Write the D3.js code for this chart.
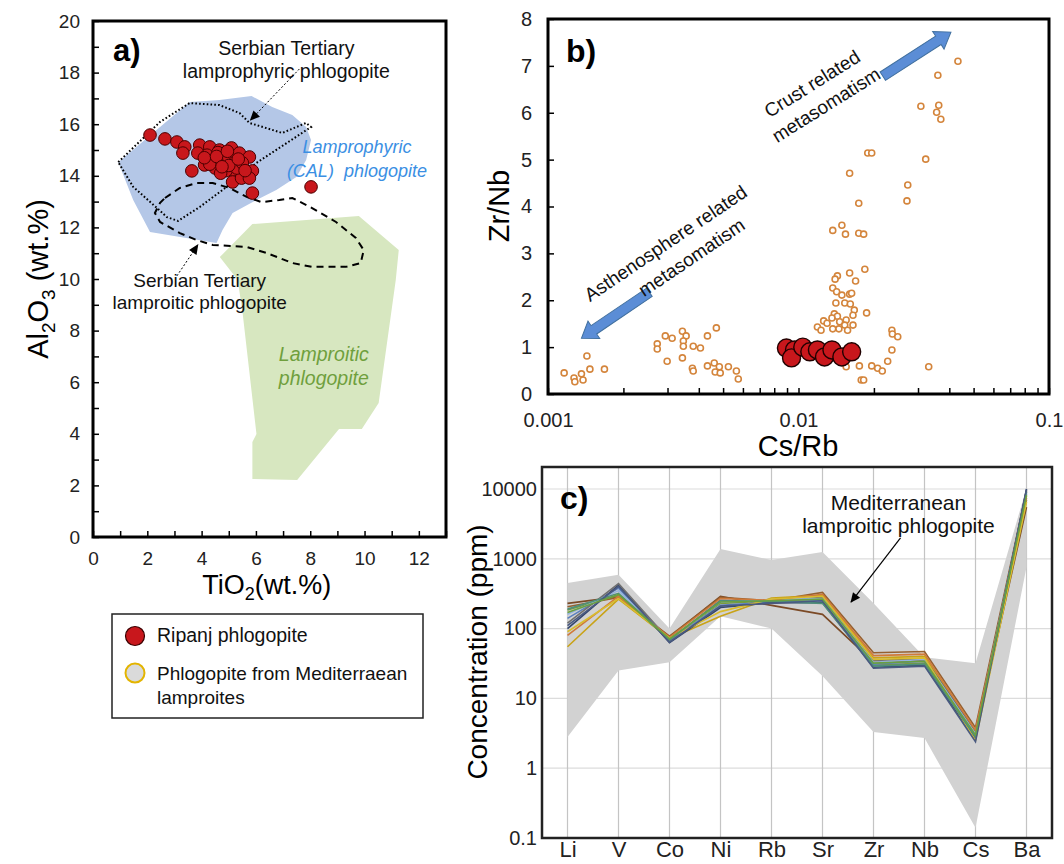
<!DOCTYPE html>
<html lang="en">
<head>
<meta charset="UTF-8">
<title>Ripanj phlogopite diagrams</title>
<script src="https://cdn.jsdelivr.net/npm/d3@7"></script>
<style>
  body { margin: 0; background: #fff; }
  svg { font-family: "Liberation Sans", Arial, sans-serif; }
  .tick text { fill: #222; }
  .tick line { stroke: #000; stroke-width: 1.5; }
</style>
</head>
<body>
<svg id="fig" width="1064" height="864"></svg>
<script>
// ---------- panel a: TiO2 vs Al2O3 ----------
// Ripanj phlogopite [TiO2, Al2O3]
const ripanjA = [
  [2.1,15.58],[2.65,15.43],[3.09,15.31],[3.38,15.12],[3.31,14.88],[3.93,15.19],[3.86,14.88],
  [4.3,15.12],[4.66,15.0],[5.1,15.08],[5.39,14.88],[5.76,14.73],[3.64,14.19],[4.11,14.42],
  [5.14,14.22],[5.87,14.19],[5.14,13.76],[5.47,13.91],[5.76,13.91],[5.87,13.33],[8.03,13.57],
  [4.4,14.6],[4.8,14.5],[5.0,14.7],[4.5,14.3],[5.2,14.5],[4.9,14.2],[4.2,14.8],[5.3,14.3],
  [4.6,14.9],[5.0,14.4],[4.7,14.1],[5.5,14.5],[4.3,14.45],[5.6,14.2],[4.1,14.7],[4.55,14.75],
  [4.95,14.95],[5.35,14.65],[4.75,14.35]
];
// field outlines [TiO2, Al2O3]
const lamprophyricField = [
  [0.93,14.53],[3.56,16.86],[4.66,16.94],[5.84,17.09],[6.6,16.67],[7.34,16.36],[7.85,15.89],
  [8.03,15.39],[7.85,14.61],[7.49,13.95],[6.75,13.45],[6.02,13.06],[5.14,12.56],[4.77,11.9],
  [4.55,11.4],[2.1,11.82],[1.48,13.06]
];
const lamproiticField = [
  [4.67,10.85],[5.87,12.13],[9.79,12.44],[11.26,11.12],[11.15,9.96],[10.52,5.19],[9.9,4.19],
  [9.06,4.19],[7.52,2.21],[5.87,2.25],[5.87,3.68],[6.02,3.99],[5.51,8.68],[5.33,9.96]
];
const serbianLamprophyric = [
  [0.93,14.53],[2.47,16.09],[3.56,16.82],[4.66,16.74],[5.4,16.43],[5.76,16.05],[6.97,15.66],
  [7.85,16.05],[8.03,15.89],[6.02,14.5],[4.92,13.57],[3.93,12.79],[3.13,12.25],[2.72,12.4],
  [2.36,12.75],[1.48,13.57]
];
const serbianLamproitic = [
  [2.65,13.14],[3.2,13.53],[3.82,13.72],[4.41,13.72],[5.03,13.53],[5.66,13.18],[6.2,12.98],
  [6.86,13.06],[7.34,13.14],[8.07,12.75],[8.95,12.21],[9.68,11.59],[9.97,11.12],[9.86,10.62],
  [9.31,10.47],[8.07,10.47],[7.34,10.62],[6.39,11.01],[5.66,11.24],[4.41,11.32],[3.82,11.51],
  [3.2,11.78],[2.47,12.21],[2.28,12.56],[2.47,12.95]
];

// ---------- panel b: Cs/Rb vs Zr/Nb ----------
const mediterraneanB = [
  [0.00116,0.45],[0.00127,0.34],[0.00128,0.26],[0.00136,0.43],[0.00138,0.30],[0.00143,0.81],
  [0.00147,0.53],[0.00168,0.53],
  [0.00273,1.07],[0.00273,0.96],[0.00294,1.24],[0.00313,1.19],[0.00299,0.70],[0.00344,1.34],
  [0.00356,1.24],[0.00347,1.13],[0.00347,1.02],[0.0038,1.02],[0.00406,0.98],[0.00344,0.77],
  [0.00377,0.55],[0.0038,0.49],[0.00433,1.24],[0.0047,1.41],[0.00433,0.60],[0.00461,0.66],
  [0.00483,0.58],[0.00465,0.47],[0.00487,0.45],[0.00525,0.58],[0.00565,0.49],[0.00575,0.32],
  [0.0433,7.10],[0.0360,6.80],[0.0308,6.14],[0.0363,6.16],[0.0356,6.01],[0.037,5.86],
  [0.0322,5.01],[0.0189,5.14],[0.0196,5.14],[0.016,4.71],[0.0273,4.46],[0.0271,4.12],
  [0.0174,4.07],[0.0149,3.60],[0.0137,3.49],[0.0154,3.41],[0.0174,3.43],[0.0182,3.41],
  [0.0184,2.66],[0.016,2.58],[0.0169,2.41],[0.0143,2.52],[0.014,2.45],[0.0137,2.26],
  [0.0142,2.18],[0.0149,2.11],[0.016,2.13],[0.0163,2.15],[0.0141,1.94],[0.0153,1.94],
  [0.0161,1.92],[0.0167,1.79],[0.0165,1.68],[0.0187,1.73],[0.0139,1.71],[0.0143,1.66],
  [0.0136,1.62],[0.0126,1.56],[0.013,1.51],[0.0146,1.54],[0.0155,1.58],[0.0153,1.47],
  [0.0119,1.43],[0.0123,1.36],[0.0137,1.39],[0.0145,1.39],[0.0157,1.36],[0.0165,1.47],
  [0.0236,1.36],[0.0237,1.28],[0.0249,1.22],[0.0236,0.94],[0.0227,0.70],[0.0155,0.58],
  [0.0175,0.60],[0.0196,0.60],[0.0207,0.55],[0.0216,0.49],[0.0178,0.30],[0.0182,0.30],
  [0.0331,0.58]
];
const ripanjB = [
  [0.00895,0.98],[0.00964,0.94],[0.00938,0.77],[0.0104,1.00],[0.0111,0.90],[0.0119,0.94],
  [0.0127,0.79],[0.0136,0.94],[0.0149,0.79],[0.0163,0.90]
];
const bTicksX = [0.001, 0.01, 0.1];

// ---------- panel c: trace elements ----------
const elements = ["Li","V","Co","Ni","Rb","Sr","Zr","Nb","Cs","Ba"];
const medUpper = [450, 590, 100, 1380, 960, 1250, 230, 39, 32, 10300];
const medLower = [2.8, 25, 33, 150, 100, 21, 3.3, 2.7, 0.14, 760];
const ripanjC = [
  [230, 285, 76, 290, 215, 160, 33, 35, 3.0, 5500],
  [205, 280, 78, 280, 250, 330, 45, 47, 3.8, 9500],
  [55, 265, 72, 150, 275, 300, 38, 40, 3.3, 8000],
  [185, 300, 70, 230, 250, 260, 30, 32, 2.7, 7000],
  [140, 380, 66, 215, 240, 250, 31, 34, 2.9, 8500],
  [100, 420, 63, 200, 235, 235, 28, 30, 2.6, 10000],
  [120, 440, 68, 255, 245, 280, 35, 37, 3.4, 9000],
  [160, 350, 70, 240, 260, 270, 33, 36, 3.1, 8800],
  [80, 290, 75, 270, 255, 310, 41, 43, 3.5, 7500],
  [90, 270, 73, 175, 265, 290, 36, 38, 2.5, 6500],
  [190, 320, 69, 250, 245, 230, 29, 31, 2.8, 9200],
  [110, 400, 64, 210, 230, 250, 27, 29, 2.4, 9800],
  [170, 310, 71, 240, 250, 265, 32, 34, 3.0, 8200]
];
const ripanjColors = ["#7b4a26","#96602f","#c9a318","#7c9a3c","#5b80bf","#34466e","#6f6f6f",
                      "#93b3de","#d07a3a","#d8bc2e","#4f8f7a","#4a5a80","#6aa040"];
const cTicksY = [0.1, 1, 10, 100, 1000, 10000];

const svg = d3.select('#fig');
svg.append('rect').attr('width',1064).attr('height',864).attr('fill','#fff');

const defs = svg.append('defs');
defs.append('marker').attr('id','head')
  .attr('viewBox','0 0 10 10').attr('refX',9).attr('refY',5)
  .attr('markerWidth',11).attr('markerHeight',10).attr('markerUnits','userSpaceOnUse')
  .attr('orient','auto')
  .append('path').attr('d','M0,0.5 L10,5 L0,9.5 Z').attr('fill','#000');

function styleAxis(g, size){
  g.select('.domain').remove();
  g.selectAll('text').style('font-size', size + 'px');
}

// ================= panel a =================
const xA = d3.scaleLinear().domain([0,13]).range([93,446]);
const yA = d3.scaleLinear().domain([0,20]).range([537,21]);
const gA = svg.append('g');
const lineA = d3.line().x(d => xA(d[0])).y(d => yA(d[1])).curve(d3.curveLinearClosed);

gA.append('path').attr('d', lineA(lamprophyricField)).attr('fill','#b4c7e7');
gA.append('path').attr('d', lineA(lamproiticField)).attr('fill','#d7e7c0');
gA.append('path').attr('d', lineA(serbianLamprophyric))
  .attr('fill','none').attr('stroke','#000').attr('stroke-width',2).attr('stroke-dasharray','1.6,2.2');
gA.append('path').attr('d', lineA(serbianLamproitic))
  .attr('fill','none').attr('stroke','#000').attr('stroke-width',2).attr('stroke-dasharray','7,5');

gA.selectAll('circle.rip').data(ripanjA).enter().append('circle')
  .attr('class','rip')
  .attr('cx', d => xA(d[0])).attr('cy', d => yA(d[1])).attr('r', 6.3)
  .attr('fill','#c8171c').attr('stroke','#4a0000').attr('stroke-width',1);

gA.append('g').attr('transform','translate(0,537)')
  .call(d3.axisBottom(xA).tickValues(d3.range(0,14)).tickSize(-6).tickPadding(15)
    .tickFormat(d => (d % 2 === 0 && d <= 12) ? d : ''))
  .call(g => styleAxis(g, 19));
gA.append('g').attr('transform','translate(93,0)')
  .call(d3.axisLeft(yA).tickValues(d3.range(0,21)).tickSize(-6).tickPadding(13)
    .tickFormat(d => d % 2 === 0 ? d : ''))
  .call(g => styleAxis(g, 19));
gA.append('rect').attr('x',93).attr('y',21).attr('width',353).attr('height',516)
  .attr('fill','none').attr('stroke','#000').attr('stroke-width',3);

// annotations a
gA.append('text').attr('x',113).attr('y',61).text('a)')
  .style('font-size','31px').style('font-weight','bold');
function twoLines(g, x, y1, y2, l1, l2, size, color, italic){
  const t = g.append('text').attr('text-anchor','middle').style('font-size', size+'px')
    .attr('fill', color).style('font-style', italic ? 'italic' : 'normal')
    .attr('xml:space','preserve');
  t.append('tspan').attr('x',x).attr('y',y1).text(l1);
  t.append('tspan').attr('x',x).attr('y',y2).text(l2);
}
twoLines(gA, xA(7.12), yA(18.68), yA(17.78), 'Serbian Tertiary', 'lamprophyric phlogopite', 19.5, '#111', false);
twoLines(gA, xA(9.72), yA(14.88), yA(13.95), 'Lamprophyric', '(CAL)  phlogopite', 18, '#3b8fe3', true);
twoLines(gA, xA(3.93), yA(9.68), yA(8.85), 'Serbian Tertiary', 'lamproitic phlogopite', 19, '#111', false);
twoLines(gA, xA(8.5), yA(6.82), yA(5.89), 'Lamproitic', 'phlogopite', 19.5, '#6f9f3d', true);

gA.append('line').attr('x1',xA(7.6)).attr('y1',yA(18.14)).attr('x2',xA(5.8)).attr('y2',yA(16.16))
  .attr('stroke','#000').attr('stroke-width',1).attr('stroke-dasharray','2,2').attr('marker-end','url(#head)');
gA.append('line').attr('x1',xA(3.09)).attr('y1',yA(10.12)).attr('x2',xA(3.86)).attr('y2',yA(11.32))
  .attr('stroke','#000').attr('stroke-width',1).attr('stroke-dasharray','2,2').attr('marker-end','url(#head)');

// axis titles a
const tA = svg.append('text').attr('x',xA(6.4)).attr('y',594).attr('text-anchor','middle')
  .style('font-size','27px');
tA.append('tspan').text('TiO');
tA.append('tspan').text('2').style('font-size','18px').attr('dy',6);
tA.append('tspan').text('(wt.%)').attr('dy',-6);
const yTa = svg.append('text').attr('transform','translate(48,279) rotate(-90)')
  .attr('text-anchor','middle').style('font-size','29px');
yTa.append('tspan').text('Al');
yTa.append('tspan').text('2').style('font-size','19px').attr('dy',7);
yTa.append('tspan').text('O').attr('dy',-7);
yTa.append('tspan').text('3').style('font-size','19px').attr('dy',7);
yTa.append('tspan').text(' (wt.%)').attr('dy',-7);

// legend
const lg = svg.append('g');
lg.append('rect').attr('x',112).attr('y',614).attr('width',311).attr('height',104)
  .attr('fill','#fff').attr('stroke','#222').attr('stroke-width',1.5);
lg.append('circle').attr('cx',135).attr('cy',636).attr('r',9.5)
  .attr('fill','#c8171c').attr('stroke','#3a0000').attr('stroke-width',1.2);
lg.append('circle').attr('cx',135).attr('cy',673).attr('r',9.5)
  .attr('fill','#dadada').attr('stroke','#e3b400').attr('stroke-width',2);
lg.append('text').attr('x',157).attr('y',642).text('Ripanj phlogopite').style('font-size','19.5px').attr('fill','#111');
const lt = lg.append('text').style('font-size','19px').attr('fill','#111');
lt.append('tspan').attr('x',157).attr('y',680).text('Phlogopite from Mediterraean');
lt.append('tspan').attr('x',157).attr('y',704).text('lamproites');

// ================= panel b =================
const xB = d3.scaleLog().domain([0.001,0.1]).range([548,1049]);
const yB = d3.scaleLinear().domain([0,8]).range([394,19]);
const gB = svg.append('g');
const logTicks = [];
[0.001,0.01].forEach(b => d3.range(1,10).forEach(m => logTicks.push(b*m)));
logTicks.push(0.1);

gB.append('g').attr('transform','translate(0,394)')
  .call(d3.axisBottom(xB).tickValues(logTicks).tickSize(-6).tickPadding(19)
    .tickFormat(d => bTicksX.some(t => Math.abs(t - d) < 1e-9) ? String(d) : ''))
  .call(g => styleAxis(g, 20));
gB.append('g').attr('transform','translate(548,0)')
  .call(d3.axisLeft(yB).tickValues(d3.range(0,9)).tickSize(-6).tickPadding(16))
  .call(g => styleAxis(g, 20));

gB.selectAll('circle.med').data(mediterraneanB).enter().append('circle')
  .attr('class','med')
  .attr('cx', d => xB(d[0])).attr('cy', d => yB(d[1])).attr('r', 3)
  .attr('fill','#fff').attr('stroke','#d4853c').attr('stroke-width',1.6);
gB.selectAll('circle.rip').data(ripanjB).enter().append('circle')
  .attr('class','rip')
  .attr('cx', d => xB(d[0])).attr('cy', d => yB(d[1])).attr('r', 9)
  .attr('fill','#c8171c').attr('stroke','#200000').attr('stroke-width',1.4);

gB.append('rect').attr('x',548).attr('y',19).attr('width',501).attr('height',375)
  .attr('fill','none').attr('stroke','#000').attr('stroke-width',3);

function blockArrow(g, x1, y1, x2, y2){
  const len = Math.hypot(x2-x1, y2-y1);
  const ang = Math.atan2(y2-y1, x2-x1) * 180 / Math.PI;
  const sw = 5, hw = 10.5, hl = 15;
  g.append('path')
    .attr('d', `M0,${-sw} L${len-hl},${-sw} L${len-hl},${-hw} L${len},0 L${len-hl},${hw} L${len-hl},${sw} L0,${sw} Z`)
    .attr('transform', `translate(${x1},${y1}) rotate(${ang})`)
    .attr('fill','#5b8dd6').attr('stroke','#41709f').attr('stroke-width',1);
}
blockArrow(gB, xB(0.0217), yB(6.78), xB(0.0406), yB(7.72));
blockArrow(gB, xB(0.00254), yB(2.17), xB(0.00136), yB(1.19));

function rotatedLines(g, p1, p2, l1, l2, angle){
  [[p1,l1],[p2,l2]].forEach(([p,l]) => {
    g.append('text').attr('text-anchor','middle').style('font-size','19px').attr('fill','#111')
      .attr('transform', `translate(${xB(p[0])},${yB(p[1])}) rotate(${angle})`).text(l);
  });
}
rotatedLines(gB, [0.0117,6.5], [0.0133,6.05], 'Crust related', 'metasomatism', -32);
rotatedLines(gB, [0.00305,3.1], [0.00387,2.8], 'Asthenosphere related', 'metasomatism', -34);

gB.append('text').attr('x',566).attr('y',62).text('b)')
  .style('font-size','32px').style('font-weight','bold');
svg.append('text').attr('x',798).attr('y',456).attr('text-anchor','middle')
  .style('font-size','29px').text('Cs/Rb');
svg.append('text').attr('transform','translate(509,206) rotate(-90)').attr('text-anchor','middle')
  .style('font-size','29px').text('Zr/Nb');

// ================= panel c =================
const xC = d3.scalePoint().domain(elements).range([542,1052]).padding(0.5);
const yC = d3.scaleLog().domain([0.1,20650]).range([838,467]);
const gC = svg.append('g');
const xAt = i => xC(elements[0]) + i * xC.step();

gC.selectAll('line.hg').data(cTicksY.slice(1)).enter().append('line')
  .attr('x1',542).attr('x2',1052).attr('y1', d => yC(d)).attr('y2', d => yC(d))
  .attr('stroke','#dcdcdc').attr('stroke-width',1.2);
gC.selectAll('line.vg').data(elements).enter().append('line')
  .attr('x1', d => xC(d)).attr('x2', d => xC(d)).attr('y1',467).attr('y2',838)
  .attr('stroke','#c4c4c4').attr('stroke-width',1.2);

const band = d3.area()
  .x((d,i) => xC(elements[i])).y0((d,i) => yC(medLower[i])).y1(d => yC(d));
gC.append('path').attr('d', band(medUpper)).attr('fill','#d2d2d2');

const lineC = d3.line().x((d,i) => xC(elements[i])).y(d => yC(d));
gC.selectAll('path.rip').data(ripanjC).enter().append('path')
  .attr('class','rip').attr('d', lineC).attr('fill','none')
  .attr('stroke', (d,i) => ripanjColors[i]).attr('stroke-width',1.6);

gC.append('g').attr('transform','translate(542,0)')
  .call(d3.axisLeft(yC).tickValues(cTicksY).tickSize(0).tickPadding(5).tickFormat(d => String(d)))
  .call(g => styleAxis(g, 20));
gC.append('g').attr('transform','translate(0,838)')
  .call(d3.axisBottom(xC).tickSize(0).tickPadding(3))
  .call(g => styleAxis(g, 22));

gC.append('rect').attr('x',542).attr('y',467).attr('width',510).attr('height',371)
  .attr('fill','none').attr('stroke','#222').attr('stroke-width',2.5);

gC.append('text').attr('x',560).attr('y',509).text('c)')
  .style('font-size','32px').style('font-weight','bold');
const tc = gC.append('text').attr('text-anchor','middle').style('font-size','21px').attr('fill','#111');
tc.append('tspan').attr('x',xAt(6.49)).attr('y',yC(5000)).text('Mediterranean');
tc.append('tspan').attr('x',xAt(6.49)).attr('y',yC(2340)).text('lamproitic phlogopite');
gC.append('line').attr('x1',xAt(6.53)).attr('y1',yC(1990)).attr('x2',xAt(5.56)).attr('y2',yC(240))
  .attr('stroke','#000').attr('stroke-width',1.2).attr('marker-end','url(#head)');

svg.append('text').attr('transform','translate(487,652) rotate(-90)').attr('text-anchor','middle')
  .style('font-size','28px').text('Concentration (ppm)');
</script>
</body>
</html>
